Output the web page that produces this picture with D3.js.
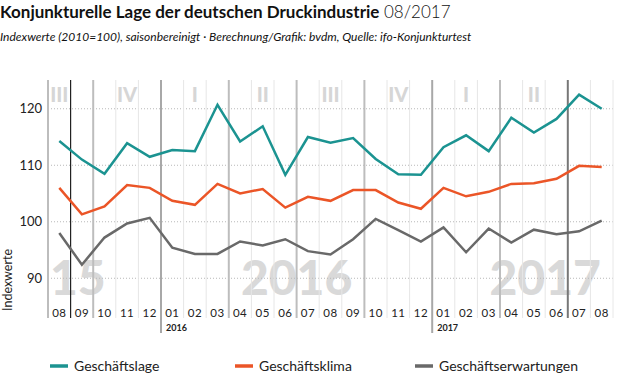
<!DOCTYPE html>
<html>
<head>
<meta charset="utf-8">
<script src="https://cdn.jsdelivr.net/npm/d3@7"></script>
<style>
  body { margin: 0; background: #fff; }
  svg { display: block; font-family: Lato, "Open Sans", sans-serif; }
</style>
</head>
<body>
<svg id="chart" width="620" height="380"></svg>
<script>
// months 08/2015 .. 08/2017
const months = ["08","09","10","11","12","01","02","03","04","05","06","07","08",
                "09","10","11","12","01","02","03","04","05","06","07","08"];
const lage = [114.3,111.0,108.5,113.9,111.5,112.7,112.5,120.7,114.2,116.9,108.3,115.0,114.0,
              114.8,111.1,108.4,108.3,113.2,115.3,112.5,118.4,115.8,118.2,122.5,120.0];
const klima = [106.0,101.3,102.7,106.5,106.0,103.7,103.0,106.7,105.0,105.8,102.5,104.4,103.7,
               105.6,105.6,103.4,102.3,106.0,104.5,105.3,106.7,106.8,107.6,109.9,109.7];
const erwartungen = [98.0,92.4,97.2,99.7,100.7,95.4,94.3,94.3,96.5,95.8,96.9,94.8,94.2,
                     96.9,100.5,98.5,96.5,99.0,94.6,98.8,96.3,98.6,97.8,98.3,100.2];
const yTicks = [90, 100, 110, 120];
const quarterLabels = ["III","IV","I","II","III","IV","I","II"];
const quarterCols = [0, 3, 6, 9, 12, 15, 18, 21];
const bigYears = ["15", "2016", "2017"];
const smallYears = ["2016", "2017"];
const seriesNames = ["Geschäftslage", "Geschäftsklima", "Geschäftserwartungen"];
const colors = ["#1b9391", "#eb5527", "#696969"];

const svg = d3.select("#chart");
const idx = months.map((_, i) => i);

const x = d3.scaleBand().domain(idx).range([48, 613]);
const step = x.step();
const y = d3.scaleLinear().domain([85, 125]).range([306.5, 80.5]);
const plotTop = 80, plotBottom = 318;
const edge = i => x.range()[0] + i * step;

// title
const title = svg.append("text").attr("x", 0).attr("y", 18)
  .style("font-size", "17px").attr("fill", "#111");
title.append("tspan").style("font-weight", "bold")
  .text("Konjunkturelle Lage der deutschen Druckindustrie");
title.append("tspan").style("font-weight", "300").text(" 08/2017");

svg.append("text").attr("x", 0).attr("y", 41)
  .style("font-size", "12px").style("font-style", "italic").attr("fill", "#111")
  .text("Indexwerte (2010=100), saisonbereinigt  ·  Berechnung/Grafik: bvdm, Quelle: ifo-Konjunkturtest");

// big year labels
svg.append("text").attr("x", edge(0) + 2).attr("y", 295)
  .style("font-size", "48px").style("font-weight", "900").attr("fill", "#d9d9d9")
  .text(bigYears[0]);
svg.append("text").attr("x", edge(11)).attr("y", 295).attr("text-anchor", "middle")
  .style("font-size", "48px").style("font-weight", "900").attr("fill", "#d9d9d9")
  .text(bigYears[1]);
svg.append("text").attr("x", edge(22)).attr("y", 295).attr("text-anchor", "middle")
  .style("font-size", "48px").style("font-weight", "900").attr("fill", "#d9d9d9")
  .text(bigYears[2]);

// quarter labels
svg.append("g").selectAll("text")
  .data(quarterLabels)
  .enter()
  .append("text")
  .attr("x", (d, i) => x(quarterCols[i]) + step / 2)
  .attr("y", 102)
  .attr("text-anchor", "middle")
  .style("font-size", "20px").style("font-weight", "900")
  .attr("fill", "#d6d6d6")
  .text(d => d);

// horizontal dotted grid
svg.append("g").selectAll("line")
  .data(yTicks)
  .enter()
  .append("line")
  .attr("x1", 48).attr("x2", 613)
  .attr("y1", d => y(d)).attr("y2", d => y(d))
  .attr("stroke", "#b8b8b8").attr("stroke-dasharray", "1,2");

// vertical column lines
function vStyle(i) {
  if (i === 1) return { c: "#222", w: 1.2 };
  if (i === 23) return { c: "#777", w: 2 };
  if (i === 25) return { c: "#e8e8e8", w: 1 };
  const m = +months[i];
  if (m === 1) return { c: "#a8a8a8", w: 2 };
  if (i === 0 || m === 4 || m === 7 || m === 10) return { c: "#bdbdbd", w: 2 };
  return { c: "#e6e6e6", w: 1 };
}
svg.append("g").selectAll("line")
  .data(d3.range(months.length + 1))
  .enter()
  .append("line")
  .attr("x1", i => edge(i)).attr("x2", i => edge(i))
  .attr("y1", plotTop)
  .attr("y2", i => (i < months.length && +months[i] === 1) ? 333 : plotBottom)
  .attr("stroke", i => vStyle(i).c)
  .attr("stroke-width", i => vStyle(i).w);

// y axis labels
svg.append("g").selectAll("text")
  .data(yTicks)
  .enter()
  .append("text")
  .attr("x", 42).attr("y", d => y(d) + 4.5)
  .attr("text-anchor", "end")
  .style("font-size", "13px").attr("fill", "#222")
  .text(d => d);

svg.append("text")
  .attr("transform", "translate(12,311) rotate(-90)")
  .style("font-size", "12.5px").attr("fill", "#222")
  .text("Indexwerte");

// month labels
svg.append("g").selectAll("text")
  .data(idx)
  .enter()
  .append("text")
  .attr("x", i => x(i) + step / 2).attr("y", 317)
  .attr("text-anchor", "middle")
  .style("font-size", "11.5px").style("letter-spacing", "0.5px").attr("fill", "#222")
  .text(i => months[i]);

// small year labels
const yearStarts = idx.filter(i => +months[i] === 1);
svg.append("g").selectAll("text")
  .data(smallYears)
  .enter()
  .append("text")
  .attr("x", (d, k) => edge(yearStarts[k]) + 5).attr("y", 331)
  .style("font-size", "9px").style("font-weight", "bold").attr("fill", "#222")
  .text(d => d);

// lines
const line = d3.line()
  .x((d, i) => x(i) + step / 2)
  .y(d => y(d));

[lage, klima, erwartungen].forEach((s, k) => {
  svg.append("path")
    .datum(s)
    .attr("fill", "none")
    .attr("stroke", colors[k])
    .attr("stroke-width", 2.5)
    .attr("stroke-linejoin", "miter")
    .attr("d", line);
});

// legend
const legendX = [50, 235, 415];
const lg = svg.append("g").selectAll("g")
  .data(seriesNames)
  .enter()
  .append("g")
  .attr("transform", (d, i) => `translate(${legendX[i]},366)`);
lg.append("line").attr("x1", 0).attr("x2", 18)
  .attr("stroke", (d, i) => colors[i]).attr("stroke-width", 3.5);
lg.append("text").attr("x", 24).attr("y", 5)
  .style("font-size", "14px").attr("fill", "#222")
  .text(d => d);
</script>
</body>
</html>
